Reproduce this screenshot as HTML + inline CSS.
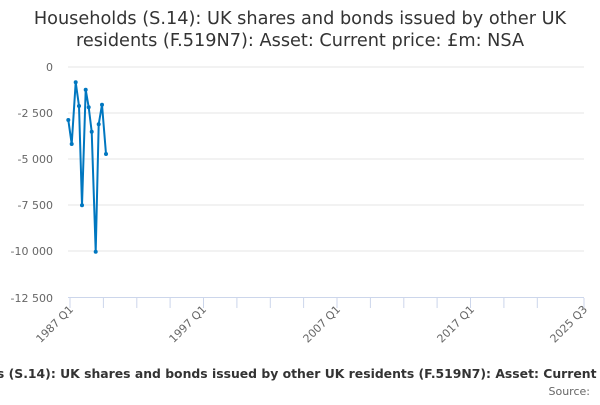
<!DOCTYPE html>
<html><head><meta charset="utf-8"><style>
body{margin:0;background:#fff;width:600px;height:400px;overflow:hidden}
</style></head><body>
<svg width="600" height="400" xmlns="http://www.w3.org/2000/svg" font-family="'DejaVu Sans','Liberation Sans',sans-serif">
<rect width="600" height="400" fill="#fff"/>
<text x="300" y="24" text-anchor="middle" font-size="17.7" fill="#333">Households (S.14): UK shares and bonds issued by other UK</text>
<text x="300" y="46" text-anchor="middle" font-size="17.7" fill="#333">residents (F.519N7): Asset: Current price: £m: NSA</text>
<g stroke="#e6e6e6" stroke-width="1">
<line x1="68" x2="584" y1="67" y2="67"/><line x1="68" x2="584" y1="113" y2="113"/>
<line x1="68" x2="584" y1="159" y2="159"/><line x1="68" x2="584" y1="205" y2="205"/>
<line x1="68" x2="584" y1="251" y2="251"/>
</g>
<line x1="68" x2="584" y1="297.5" y2="297.5" stroke="#ccd6eb"/>
<g stroke="#ccd6eb">
<line x1="70" x2="70" y1="298" y2="308"/><line x1="103.4" x2="103.4" y1="298" y2="308"/>
<line x1="136.8" x2="136.8" y1="298" y2="308"/><line x1="170.1" x2="170.1" y1="298" y2="308"/>
<line x1="203.5" x2="203.5" y1="298" y2="308"/><line x1="236.9" x2="236.9" y1="298" y2="308"/>
<line x1="270.3" x2="270.3" y1="298" y2="308"/><line x1="303.6" x2="303.6" y1="298" y2="308"/>
<line x1="337" x2="337" y1="298" y2="308"/><line x1="370.4" x2="370.4" y1="298" y2="308"/>
<line x1="403.8" x2="403.8" y1="298" y2="308"/><line x1="437.1" x2="437.1" y1="298" y2="308"/>
<line x1="470.5" x2="470.5" y1="298" y2="308"/><line x1="503.9" x2="503.9" y1="298" y2="308"/>
<line x1="537.3" x2="537.3" y1="298" y2="308"/><line x1="584" x2="584" y1="298" y2="308"/>
</g>
<g font-size="11" fill="#666" text-anchor="end">
<text x="53" y="71">0</text><text x="53" y="117">-2 500</text><text x="53" y="163">-5 000</text>
<text x="53" y="209">-7 500</text><text x="53" y="255">-10 000</text><text x="53" y="302">-12 500</text>
</g>
<g font-size="11" fill="#666" text-anchor="end">
<text transform="translate(74,310) rotate(-45)">1987 Q1</text>
<text transform="translate(207,310) rotate(-45)">1997 Q1</text>
<text transform="translate(341,310) rotate(-45)">2007 Q1</text>
<text transform="translate(475,310) rotate(-45)">2017 Q1</text>
<text transform="translate(588,310) rotate(-45)">2025 Q3</text>
</g>
<polyline fill="none" stroke="#0077c0" stroke-width="2" stroke-linejoin="round" points="68.3,120 71.7,144 75.7,82.3 79,106 82,205.3 85.7,89.7 88.7,107.3 91.7,131.7 95.7,251.7 98.7,124.3 102,104.7 106,154"/>
<g fill="#0077c0">
<circle cx="68.3" cy="120" r="2"/><circle cx="71.7" cy="144" r="2"/><circle cx="75.7" cy="82.3" r="2"/>
<circle cx="79" cy="106" r="2"/><circle cx="82" cy="205.3" r="2"/><circle cx="85.7" cy="89.7" r="2"/>
<circle cx="88.7" cy="107.3" r="2"/><circle cx="91.7" cy="131.7" r="2"/><circle cx="95.7" cy="251.7" r="2"/>
<circle cx="98.7" cy="124.3" r="2"/><circle cx="102" cy="104.7" r="2"/><circle cx="106" cy="154" r="2"/>
</g>
<text x="-77" y="378" font-size="12.4" font-weight="bold" fill="#333">Households (S.14): UK shares and bonds issued by other UK residents (F.519N7): Asset: Current price: £m: NSA</text>
<text x="590" y="395" text-anchor="end" font-size="11" fill="#666">Source:</text>
</svg>
</body></html>
